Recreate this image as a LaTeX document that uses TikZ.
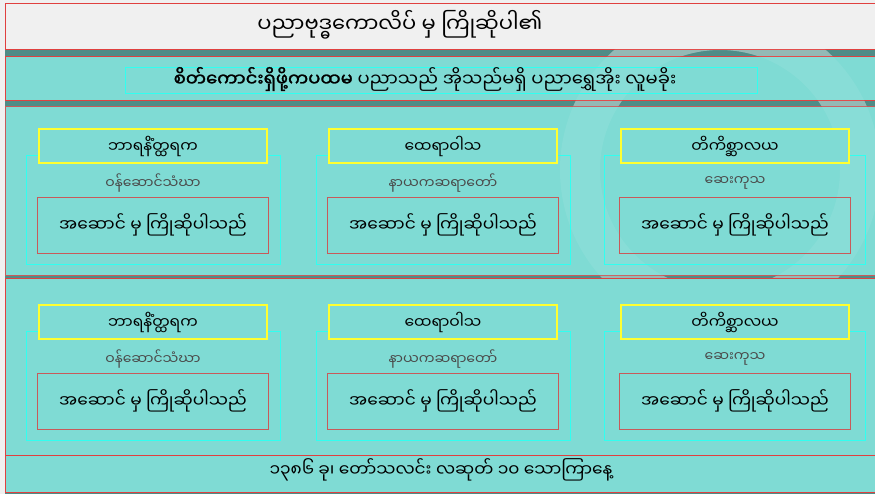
\documentclass[tikz,border=0pt]{standalone}
\usepackage{fontspec}
\newfontfamily\myfont[Script=Myanmar,AutoFakeBold=1.5]{Noto Sans Myanmar UI}
\usetikzlibrary{positioning}
\definecolor{tealbg}{HTML}{7FDBD4}
\definecolor{tealdark}{HTML}{4F8C87}
\definecolor{titlebg}{HTML}{F0F0F0}
\definecolor{framered}{HTML}{E0403F}
\definecolor{boxred}{HTML}{C85A5A}
\definecolor{cyanline}{HTML}{30FFF0}
\definecolor{yellowline}{HTML}{FFFF30}
\definecolor{subgray}{HTML}{4A4A4A}
\tikzset{
  titlebox/.style={
    rectangle, draw=framered, fill=titlebg, line width=1pt,
    anchor=north west, inner sep=0pt
  },
  bandbox/.style={
    rectangle, draw=#1, fill=tealbg, line width=1pt,
    anchor=north west, inner sep=0pt
  },
  bandbox/.default=framered,
  quotebox/.style={
    rectangle, draw=cyanline, line width=0.8pt,
    minimum width=632, minimum height=26, inner sep=0pt
  },
  cardframe/.style={
    rectangle, draw=cyanline, line width=0.8pt,
    minimum height=109, anchor=north, inner sep=0pt
  },
  headbox/.style={
    rectangle, draw=yellowline, fill=tealbg, line width=1.1pt,
    minimum width=228, minimum height=34, inner sep=0pt,
    font=\myfont\fontsize{15.5}{18}\selectfont
  },
  subtext/.style={
    font=\myfont\fontsize{14}{16}\selectfont, text=subgray
  },
  welcomebox/.style={
    rectangle, draw=boxred, line width=0.8pt,
    minimum width=231, minimum height=56, inner sep=0pt,
    font=\myfont\fontsize{17}{20}\selectfont
  },
  bigtext/.style={
    font=\myfont\fontsize{#1}{#1}\selectfont
  },
  logoring/.style={
    white, opacity=#1, line width=40
  },
}

\begin{document}
\begin{tikzpicture}[x=1pt, y=-1pt]
  \useasboundingbox (0,0) rectangle (875,494);
  \fill[titlebg] (0,0) rectangle (875,494);
  \fill[tealdark] (5,49) rectangle (880,494);

  % faint logo, seen in the gaps
  \begin{scope}
    \clip (5,49) rectangle (880,278);
    \draw[logoring=0.35] (720,170) circle[radius=140];
  \end{scope}

  % bands
  \node[titlebox, minimum width=875, minimum height=46] (title) at (5,3) {};
  \node[bandbox, minimum width=875, minimum height=44] (quote) at (5,56) {};
  \node[bandbox=boxred, minimum width=875, minimum height=169] (upper) at (5,106) {};
  \node[bandbox, minimum width=875, minimum height=177] (lower) at (5,278) {};
  \node[bandbox, minimum width=875, minimum height=37] (footer) at (5,455) {};

  \begin{scope}
    \clip (5,49) rectangle (880,278);
    \draw[logoring=0.07] (720,170) circle[radius=140];
  \end{scope}

  \node[bigtext=21] (titletxt) at (400,25) {ပညာဗုဒ္ဓကောလိပ် မှ ကြိုဆိုပါ၏};
  \node[quotebox] (quoteframe) at (441,80) {};
  \node[bigtext=18] (quotetxt) at (425,79)
    {\bfseries စိတ်ကောင်းရှိဖို့ကပထမ\mdseries{} ပညာသည် အိုသည်မရှိ  ပညာရွှေအိုး လူမခိုး};

  % cards
  \foreach \rw/\dy in {a/0, b/176}{
    \foreach \cl/\cx/\cw/\hd/\sb in {1/153/254/ဘာရနိံတ္ထရက/ဝန်ဆောင်သံဃာ,
        2/443/254/ထေရာဝါသ/နာယကဆရာတော်, 3/735/261/တိကိစ္ဆာလယ/ဆေးကုသ}{
      \node[cardframe, minimum width=\cw] (frame\rw\cl) at (\cx,155+\dy) {};
      \node[headbox] (head\rw\cl) at (\cx,146+\dy) {\hd};
      \node[subtext] (sub\rw\cl) at (\cx,183+\dy) {\sb};
      \node[welcomebox] (welcome\rw\cl) at (\cx,225+\dy) {အဆောင် မှ ကြိုဆိုပါသည်};
    }
  }

  \node[bigtext=17] (datetxt) at (441,470) {၁၃၈၆ ခု၊ တော်သလင်း လဆုတ် ၁၀ သောကြာနေ့};
\end{tikzpicture}
\end{document}
